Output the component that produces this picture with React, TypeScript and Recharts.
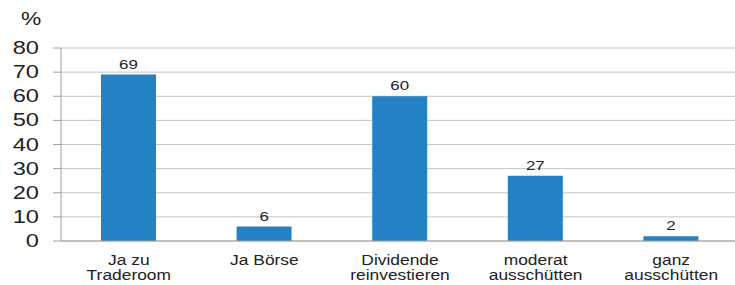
import { BarChart, Bar, XAxis, YAxis, CartesianGrid, LabelList } from 'recharts';

const categories = ['Ja zu|Traderoom', 'Ja Börse', 'Dividende|reinvestieren', 'moderat|ausschütten', 'ganz|ausschütten'];
const values = [69, 6, 60, 27, 2];
const yTicks = [0, 10, 20, 30, 40, 50, 60, 70, 80];
const boundaryTicks = [0, 1, 2, 3, 4, 5];

const data = categories.map((c, i) => ({ name: c, value: values[i] }));

const FONT = 'Liberation Sans, Arial, sans-serif';

// reference text is drawn a little wide, so stretch it horizontally
const CategoryTick = (props: any) => {
  const { x, y, payload } = props;
  const lines = String(payload.value).split('|');
  return (
    <g transform={`translate(${x},${y}) scale(1.2,1)`}>
      {lines.map((l, i) => (
        <text key={i} x={0} y={16 + i * 15} textAnchor="middle" fill="#222" fontSize={14.5} fontFamily={FONT}>
          {l}
        </text>
      ))}
    </g>
  );
};

const ValueTick = (props: any) => {
  const { x, y, payload } = props;
  return (
    <g transform={`translate(${x - 12},${y}) scale(1.35,1)`}>
      <text x={0} y={0} dy={6} textAnchor="end" fill="#222" fontSize={17.5} fontFamily={FONT}>
        {payload.value}
      </text>
    </g>
  );
};

const BarValue = (props: any) => {
  const { x, y, width, value } = props;
  return (
    <g transform={`translate(${x + width / 2},${y - 6}) scale(1.3,1)`}>
      <text x={0} y={0} textAnchor="middle" fill="#222" fontSize={13} fontFamily={FONT}>
        {value}
      </text>
    </g>
  );
};

export default function App() {
  return (
    <div style={{ position: 'absolute', left: 0, top: 0, width: 735, height: 285, overflow: 'hidden', background: '#fff' }}>
      <div
        style={{
          position: 'absolute',
          left: 21,
          top: 10,
          fontFamily: FONT,
          fontSize: 17.5,
          lineHeight: '18px',
          color: '#222',
          transform: 'scaleX(1.3)',
          transformOrigin: 'left top',
        }}
      >
        %
      </div>
      <BarChart width={740} height={285} data={data} margin={{ top: 48, right: 1, bottom: 0, left: 0 }}>
        <CartesianGrid horizontal vertical={false} stroke="#c4c4c4" />
        {/* category boundary ticks, drawn first so it sits right on the plot edge */}
        <XAxis
          xAxisId="edge"
          type="number"
          domain={[0, 5]}
          ticks={boundaryTicks}
          interval={0}
          height={0}
          axisLine={false}
          tick={() => <g />}
          tickSize={5}
          tickLine={{ stroke: '#a0a0a0' }}
          orientation="bottom"
        />
        <XAxis
          dataKey="name"
          xAxisId="cat"
          height={44}
          axisLine={{ stroke: '#a0a0a0' }}
          tickLine={false}
          tick={<CategoryTick />}
          interval={0}
        />
        <YAxis
          width={61}
          domain={[0, 80]}
          ticks={yTicks}
          interval={0}
          axisLine={{ stroke: '#a0a0a0' }}
          tickLine={{ stroke: '#a0a0a0' }}
          tickSize={8}
          tick={<ValueTick />}
        />
        <Bar dataKey="value" xAxisId="cat" fill="#2481C3" barSize={55} isAnimationActive={false}>
          <LabelList dataKey="value" content={<BarValue />} />
        </Bar>
      </BarChart>
    </div>
  );
}
